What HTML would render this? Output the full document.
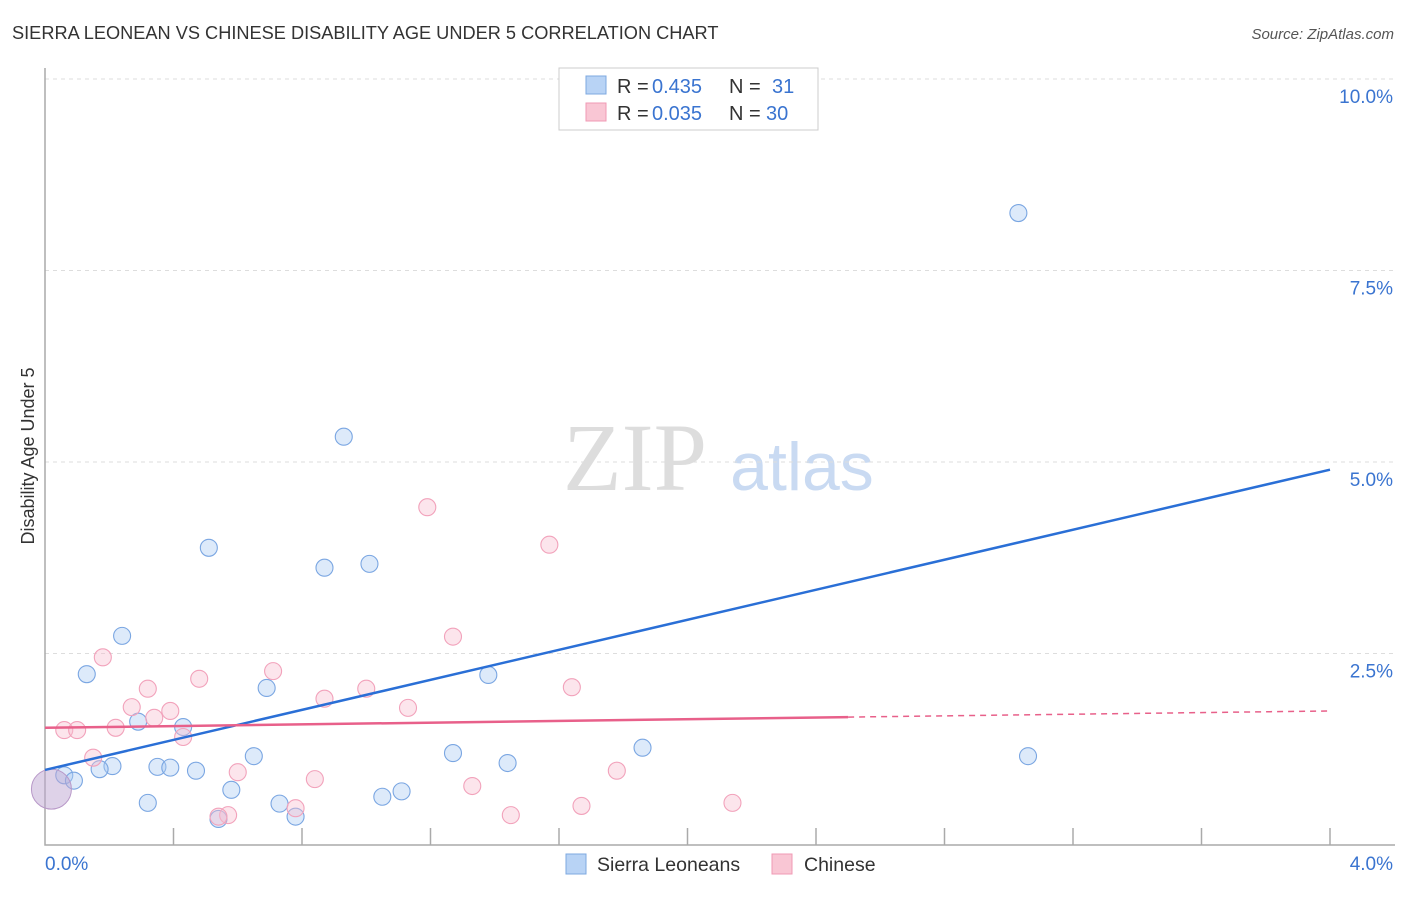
<!DOCTYPE html>
<html><head><meta charset="utf-8"><style>
body{margin:0;background:#fff;font-family:"Liberation Sans",sans-serif;}
</style></head><body>
<svg width="1406" height="892" xmlns="http://www.w3.org/2000/svg" id="c" style="font-family:'Liberation Sans',sans-serif">
<text x="12" y="39" font-size="18.2" fill="#333">SIERRA LEONEAN VS CHINESE DISABILITY AGE UNDER 5 CORRELATION CHART</text>
<text x="1394" y="39" font-size="15" fill="#555" text-anchor="end" font-style="italic">Source: ZipAtlas.com</text>
<text x="34" y="456" font-size="18" fill="#333" text-anchor="middle" transform="rotate(-90 34 456)">Disability Age Under 5</text>
<text x="635" y="490" font-size="96" fill="#ddd" font-family="Liberation Serif" text-anchor="middle">ZIP</text>
<text x="802" y="490" font-size="68" fill="#c9daf2" text-anchor="middle">atlas</text>
<g id="grid"></g><g id="marks"></g>
<g>
<rect x="559" y="68" width="259" height="62" fill="#fff" stroke="#ccc"/>
<rect x="586" y="76" width="20" height="18" fill="#b8d3f5" stroke="#7ea8e0"/>
<rect x="586" y="103" width="20" height="18" fill="#f9c6d4" stroke="#f09ab4"/>
<text x="617" y="93" font-size="20" fill="#333">R =</text>
<text x="652" y="93" font-size="20" fill="#3a74d0">0.435</text>
<text x="729" y="93" font-size="20" fill="#333">N =</text>
<text x="772" y="93" font-size="20" fill="#3a74d0">31</text>
<text x="617" y="120" font-size="20" fill="#333">R =</text>
<text x="652" y="120" font-size="20" fill="#3a74d0">0.035</text>
<text x="729" y="120" font-size="20" fill="#333">N =</text>
<text x="766" y="120" font-size="20" fill="#3a74d0">30</text>
</g>
<g>
<rect x="566" y="854" width="20" height="20" fill="#b8d3f5" stroke="#7ea8e0"/>
<text x="597" y="871" font-size="19.5" fill="#333">Sierra Leoneans</text>
<rect x="772" y="854" width="20" height="20" fill="#f9c6d4" stroke="#f09ab4"/>
<text x="804" y="871" font-size="19.5" fill="#333">Chinese</text>
</g>
</svg>
<script>
const yTicks=[10,7.5,5,2.5];
const yTickLabels=["10.0%","7.5%","5.0%","2.5%"];
const xTickLabels=["0.0%","4.0%"];
const blueX=[3.03,0.93,0.51,0.87,1.01,0.24,0.13,1.38,0.69,0.29,0.43,1.86,3.06,1.27,0.65,1.44,0.21,0.17,0.35,0.39,0.47,0.06,0.09,0.58,1.11,1.05,0.32,0.73,0.54,0.78];
const blueY=[8.25,5.33,3.88,3.62,3.67,2.73,2.23,2.22,2.05,1.61,1.54,1.27,1.16,1.20,1.16,1.07,1.03,0.99,1.02,1.01,0.97,0.91,0.84,0.72,0.70,0.63,0.55,0.54,0.34,0.37];
const pinkX=[1.19,1.57,1.27,0.18,0.71,0.48,1.64,0.32,1.00,0.87,0.27,1.13,0.39,0.34,0.06,0.10,0.22,0.43,0.15,0.60,1.78,0.84,1.33,2.14,1.67,0.78,0.57,0.54,1.45];
const pinkY=[4.41,3.92,2.72,2.45,2.27,2.17,2.06,2.04,2.04,1.91,1.80,1.79,1.75,1.66,1.50,1.50,1.53,1.41,1.14,0.95,0.97,0.86,0.77,0.55,0.51,0.48,0.39,0.37,0.39];
const blueTrend=[0.98,4.90];
const pinkTrend=[1.53,1.67,1.75];
const X=v=>45+v/4*1285, Y=v=>845-v/10*766;
const NS="http://www.w3.org/2000/svg";
const grid=document.getElementById('grid'), marks=document.getElementById('marks');
function mk(p,t,a){const e=document.createElementNS(NS,t);for(const k in a)e.setAttribute(k,a[k]);p.appendChild(e);return e;}
yTicks.forEach((t,i)=>{
 const l=mk(grid,'line',{x1:45,x2:1395,y1:Y(t),y2:Y(t),stroke:'#ddd','stroke-dasharray':'4,4'});
 
 
 const tx=mk(grid,'text',{x:1393,y:Y(t)+24,'font-size':19,fill:'#3a74d0','text-anchor':'end'});tx.textContent=yTickLabels[i];
 
 
});
const ax=mk(grid,'path',{d:'M45 68V845H1395',fill:'none',stroke:'#aaa','stroke-width':1.5});


for(let i=1;i<=10;i++){const t=mk(grid,'line',{x1:X(i*0.4),x2:X(i*0.4),y1:828,y2:845,stroke:'#aaa','stroke-width':1.5});
 
 }
[[0,'start',45],[4,'end',1393]].forEach((d,i)=>{const t=mk(grid,'text',{x:d[2],y:870,'font-size':19,fill:'#3a74d0','text-anchor':d[1]});t.textContent=xTickLabels[i];
 
 });
function pts(xs,ys,fill,stroke,name){xs.forEach((x,i)=>{const c=mk(marks,'circle',{cx:X(x),cy:Y(ys[i]),r:8.5,fill:fill,stroke:stroke,'stroke-width':1.1});
 
 });}
pts(blueX,blueY,'rgba(170,202,242,0.4)','#7aa6e2','sierra-leonean-point');
pts(pinkX,pinkY,'rgba(248,190,208,0.4)','#f2a2bb','chinese-point');
const big=mk(marks,'circle',{cx:X(0.02),cy:Y(0.73),r:20,fill:'rgba(190,165,210,0.5)',stroke:'#b898c8'});


const bl=mk(marks,'line',{x1:X(0),y1:Y(blueTrend[0]),x2:X(4),y2:Y(blueTrend[1]),stroke:'#2a6fd6','stroke-width':2.5});


const pl=mk(marks,'line',{x1:X(0),y1:Y(pinkTrend[0]),x2:X(2.5),y2:Y(pinkTrend[1]),stroke:'#e8608a','stroke-width':2.5});


const pd=mk(marks,'line',{x1:X(2.5),y1:Y(pinkTrend[1]),x2:X(4),y2:Y(pinkTrend[2]),stroke:'#e8608a','stroke-width':1.5,'stroke-dasharray':'6,5'});


</script>
</body></html>
